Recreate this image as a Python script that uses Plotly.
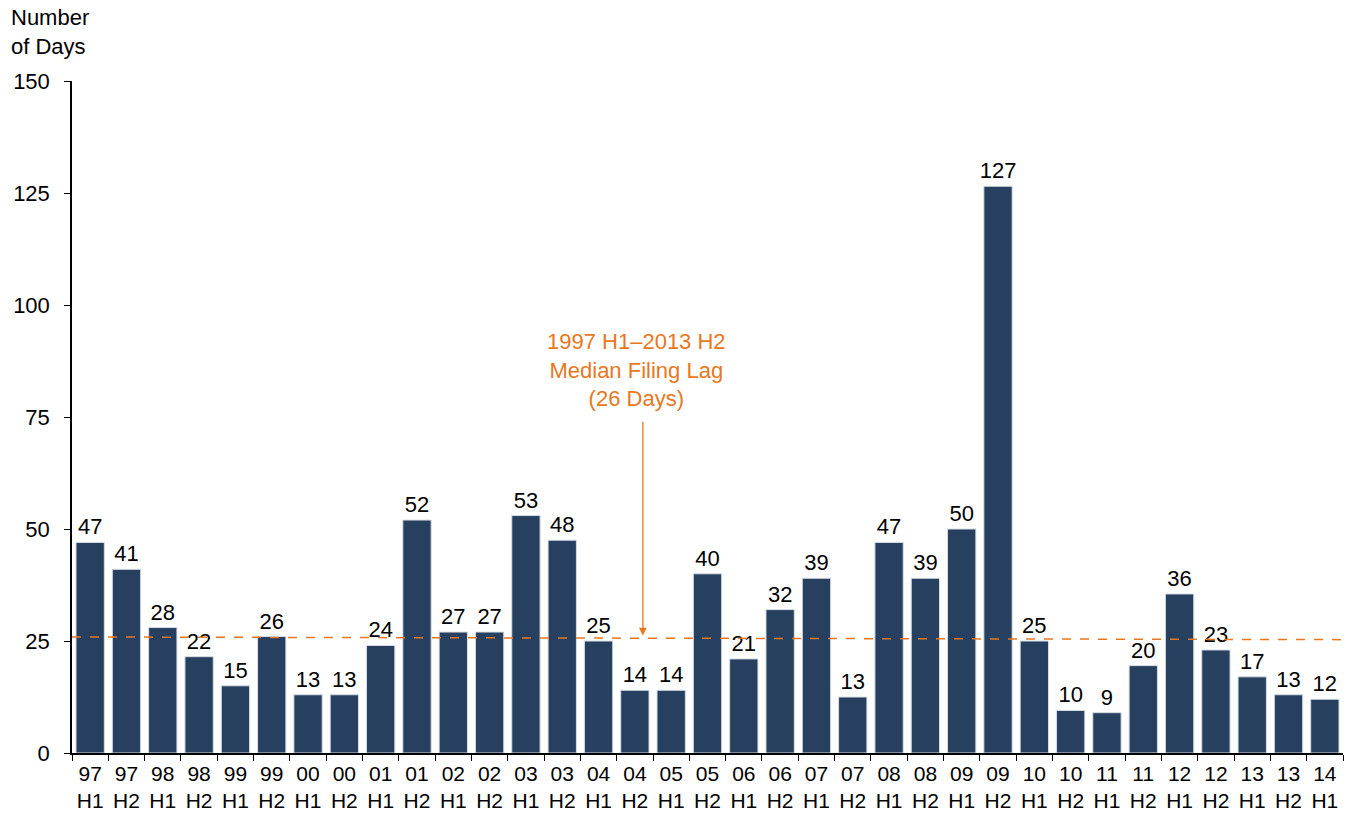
import plotly.graph_objects as go

categories = ["97<br>H1","97<br>H2","98<br>H1","98<br>H2","99<br>H1","99<br>H2","00<br>H1","00<br>H2",
              "01<br>H1","01<br>H2","02<br>H1","02<br>H2","03<br>H1","03<br>H2","04<br>H1","04<br>H2",
              "05<br>H1","05<br>H2","06<br>H1","06<br>H2","07<br>H1","07<br>H2","08<br>H1","08<br>H2",
              "09<br>H1","09<br>H2","10<br>H1","10<br>H2","11<br>H1","11<br>H2","12<br>H1","12<br>H2",
              "13<br>H1","13<br>H2","14<br>H1"]
values = [47, 41, 28, 21.5, 15, 26, 13, 13, 24, 52, 27, 27, 53, 47.5, 25, 14, 14, 40, 21, 32, 39, 12.5,
          47, 39, 50, 126.5, 25, 9.5, 9, 19.5, 35.5, 23, 17, 13, 12]
labels = [47, 41, 28, 22, 15, 26, 13, 13, 24, 52, 27, 27, 53, 48, 25, 14, 14, 40, 21, 32, 39, 13,
          47, 39, 50, 127, 25, 10, 9, 20, 36, 23, 17, 13, 12]
median_lag = 26
y_ticks = [0, 25, 50, 75, 100, 125, 150]

orange = "#E87722"
font = "Liberation Sans, Arial, sans-serif"
FS = 22

fig = go.Figure()
fig.add_trace(go.Bar(
    x=categories, y=values,
    text=[str(v) for v in labels], textposition="outside", constraintext="none",
    textfont=dict(size=FS, color="black", family=font),
    marker=dict(color="#27405F", line=dict(color="#D6DCE4", width=1)),
    cliponaxis=False, showlegend=False,
))

fig.add_shape(type="line", xref="paper", yref="y", x0=0, x1=1.005, y0=25.9, y1=25.3,
              line=dict(color=orange, width=1.5, dash="dash"))

arrow_x = 15.22
fig.add_annotation(x=arrow_x, y=median_lag, ax=arrow_x, ay=74.3,
                   xref="x", yref="y", axref="x", ayref="y",
                   showarrow=True, arrowhead=2, arrowsize=1.2, arrowwidth=1.3, arrowcolor=orange,
                   standoff=1, text="")
fig.add_annotation(x=15.05, y=75.8, xref="x", yref="y", yanchor="bottom",
                   text="1997 H1\u20132013 H2<br>Median Filing Lag<br>(26 Days)",
                   showarrow=False, font=dict(size=FS, color=orange, family=font))

fig.add_annotation(x=-63/1271, y=1 + 78/672, xref="paper", yref="paper",
                   xanchor="left", yanchor="top",
                   text="Number<br>of Days", showarrow=False, align="left",
                   font=dict(size=FS, color="black", family=font))

fig.update_layout(
    width=1349, height=817,
    margin=dict(l=72, r=6, t=81, b=64, autoexpand=False),
    paper_bgcolor="white", plot_bgcolor="white",
    bargap=0.22,
    font=dict(family=font, size=FS, color="black"),
    xaxis=dict(type="category", showline=True, linecolor="black", linewidth=1.5,
               ticks="outside", tickson="boundaries", ticklen=6, tickcolor="black",
               tickfont=dict(size=21), showgrid=False, ticklabelstandoff=1,
               tickangle=0, automargin=False),
    yaxis=dict(range=[0, 150], tickvals=y_ticks, showline=True, linecolor="black", linewidth=1.5,
               ticks="outside", ticklen=6, tickcolor="black", showgrid=False,
               tickfont=dict(size=FS), zeroline=False, ticklabelstandoff=10, automargin=False),
)

fig.write_html("out.html", config={"displayModeBar": False},
               post_script="document.body.style.margin='0';document.body.style.overflow='hidden';")
